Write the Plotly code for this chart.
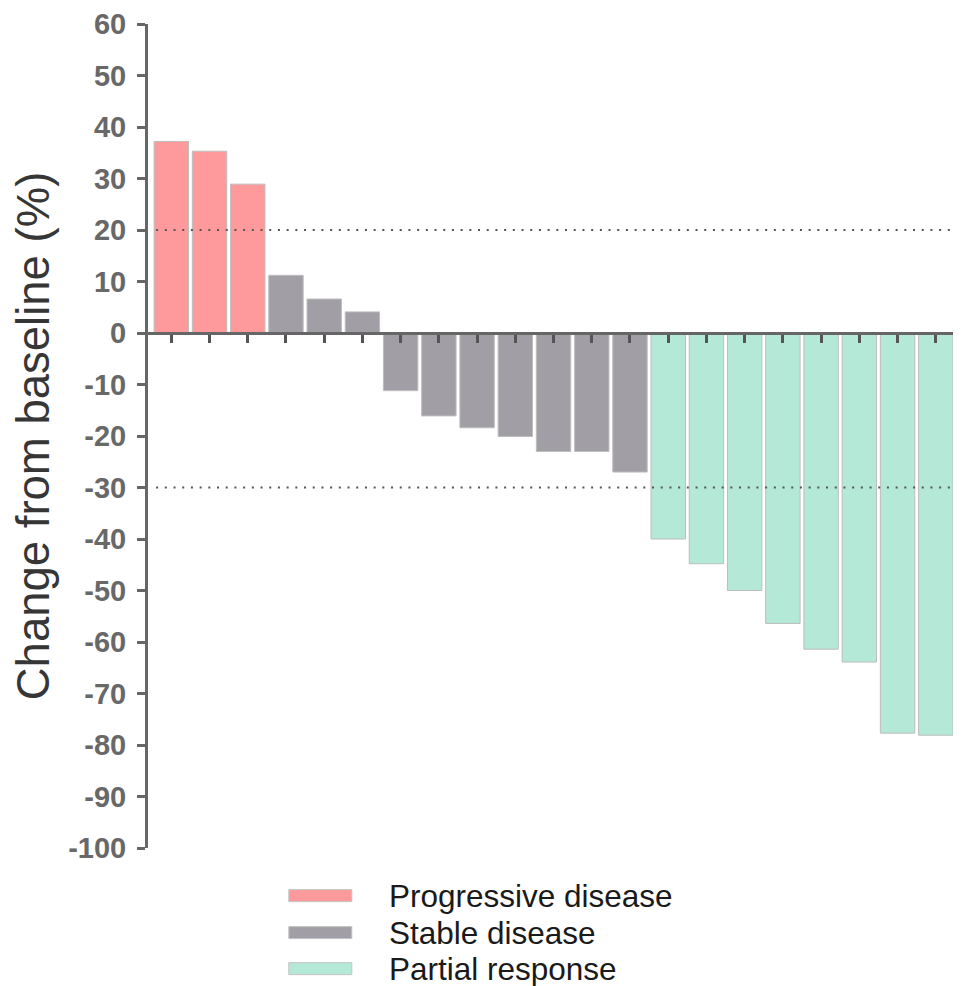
import plotly.graph_objects as go

# ---- data ----
patients = list(range(1, 22))
change_pct = [37.2, 35.3, 28.9, 11.2, 6.6, 4.1, -11.2, -16.1, -18.4, -20.1, -23.0,
              -23.0, -27.0, -40.0, -44.8, -50.0, -56.4, -61.4, -63.9, -77.7, -78.1]
response = (["Progressive disease"] * 3 + ["Stable disease"] * 10 +
            ["Partial response"] * 8)
groups = ["Progressive disease", "Stable disease", "Partial response"]
group_colors = {"Progressive disease": "#FE9A9B",
                "Stable disease": "#A19FA5",
                "Partial response": "#B4E9D7"}
reference_lines = [20, -30]
y_ticks = list(range(-100, 61, 10))
y_tick_labels = [str(v) for v in y_ticks]  # plain hyphen minus, as in the reference

FONT = "Liberation Sans, Arial, sans-serif"

fig = go.Figure()
for g in groups:
    xs = [p for p, r in zip(patients, response) if r == g]
    ys = [v for v, r in zip(change_pct, response) if r == g]
    fig.add_trace(go.Bar(
        x=xs, y=ys, name=g, width=0.9,
        marker=dict(color=group_colors[g], line=dict(color="#BDBDBD", width=1)),
        showlegend=False,
    ))

for yv in reference_lines:
    fig.add_shape(type="line", xref="paper", x0=0.01, x1=1, yref="y", y0=yv, y1=yv,
                  line=dict(color="#555555", width=2, dash="2px,6.7px"), layer="above")

# manual legend (wide swatches as in the reference)
leg_y = [-0.0578, -0.1027, -0.1464]
sw_h = 12 / 824
for g, yc in zip(groups, leg_y):
    fig.add_shape(type="rect", xref="paper", yref="paper",
                  x0=0.1732, x1=0.2507, y0=yc - sw_h / 2, y1=yc + sw_h / 2,
                  fillcolor=group_colors[g], line=dict(color="#C4C4C4", width=1))
    fig.add_annotation(text=g, xref="paper", yref="paper", x=0.294, y=yc,
                       xanchor="left", yanchor="middle", showarrow=False,
                       font=dict(family=FONT, size=31.5, color="#1a1a1a"))

fig.update_layout(
    width=953, height=978,
    margin=dict(l=140, r=0, t=16, b=138),
    plot_bgcolor="white", paper_bgcolor="white",
    barmode="overlay",
    font=dict(family=FONT),
    xaxis=dict(
        range=[0.39, 21.66], anchor="free", position=0.625, side="bottom",
        showline=True, linecolor="#666666", linewidth=3,
        ticks="outside", ticklen=8, tickwidth=2.5, tickcolor="#555555",
        tickvals=patients, showticklabels=False,
        showgrid=False, zeroline=False,
    ),
    yaxis=dict(
        range=[-100, 60], tickvals=y_ticks, ticktext=y_tick_labels,
        showline=True, linecolor="#666666", linewidth=3,
        ticks="outside", ticklen=8, tickwidth=2.5, tickcolor="#666666",
        ticklabelstandoff=5,
        tickfont=dict(family=FONT, size=29, color="#686868", weight="bold"),
        showgrid=False, zeroline=False,
        title=dict(text="Change from baseline (%)", standoff=12,
                   font=dict(family=FONT, size=45.5, color="#363636")),
    ),
)

fig.write_html("out.html")
